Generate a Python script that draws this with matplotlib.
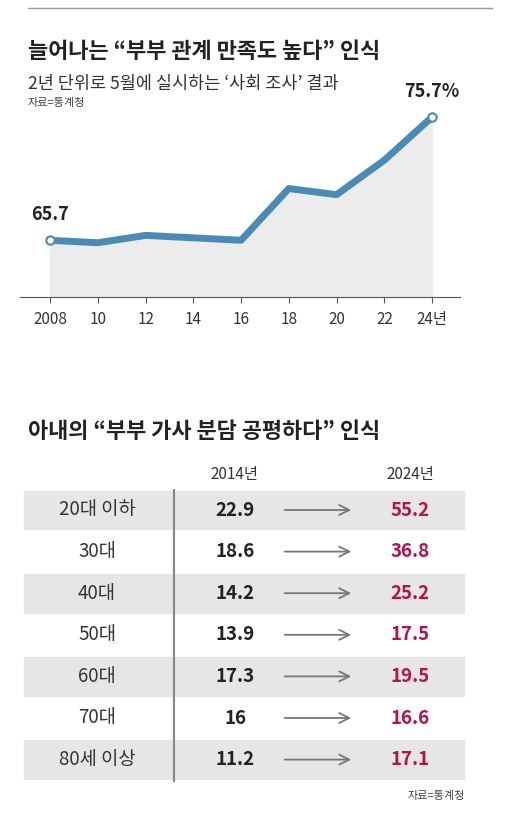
import matplotlib
matplotlib.use("Agg")
import matplotlib.pyplot as plt
from matplotlib.patches import Rectangle

plt.rcParams['font.family'] = ['Noto Sans CJK KR', 'DejaVu Sans']

years = [2008, 2010, 2012, 2014, 2016, 2018, 2020, 2022, 2024]
year_labels = ['2008', '10', '12', '14', '16', '18', '20', '22', '24년']
satisfaction = [65.7, 65.5, 66.1, 65.9, 65.7, 69.9, 69.4, 72.2, 75.7]

groups = ['20대 이하', '30대', '40대', '50대', '60대', '70대', '80세 이상']
v2014 = ['22.9', '18.6', '14.2', '13.9', '17.3', '16', '11.2']
v2024 = ['55.2', '36.8', '25.2', '17.5', '19.5', '16.6', '17.1']

W, H = 520, 816
fig = plt.figure(figsize=(W/100, H/100), dpi=100)
bg = fig.add_axes([0, 0, 1, 1])
bg.set_xlim(0, W); bg.set_ylim(H, 0); bg.axis('off')

bg.plot([28, 492], [8, 8], color='#999999', lw=1)
bg.text(28, 52, '늘어나는 “부부 관계 만족도 높다” 인식', fontsize=15.8, fontweight='bold', va='center', color='#222')
bg.text(28, 84, '2년 단위로 5월에 실시하는 ‘사회 조사’ 결과', fontsize=12.6, va='center', color='#333')
bg.text(28, 103, '자료=통계청', fontsize=8, va='center', color='#444')

# line chart
l, r, t, b = 20, 460, 110, 297
ax = fig.add_axes([l/W, 1-b/H, (r-l)/W, (b-t)/H])
ax.set_xlim(2006.74, 2025.17)
ax.set_ylim(61.1, 76.27)
ax.fill_between(years, satisfaction, 61.1, color='#ececec', zorder=1)
ax.plot(years, satisfaction, color='#4a8ab5', lw=5, solid_joinstyle='round', zorder=2)
ax.plot([years[0], years[-1]], [satisfaction[0], satisfaction[-1]], 'o', ms=6,
        mfc='white', mec='#4a8ab5', mew=1.5, zorder=3)
ax.text(years[0], satisfaction[0]+1.3, '65.7', fontsize=13, fontweight='bold', ha='center', va='bottom', color='#222')
ax.text(years[-1], satisfaction[-1]+1.3, '75.7%', fontsize=13, fontweight='bold', ha='center', va='bottom', color='#222')
for s in ['top', 'right', 'left']:
    ax.spines[s].set_visible(False)
ax.spines['bottom'].set_color('#555')
ax.set_yticks([])
ax.set_xticks(years)
ax.set_xticklabels(year_labels, fontsize=11, color='#333')
ax.tick_params(axis='x', length=4, color='#555', pad=6)
ax.set_facecolor('none')

# table
bg.text(28, 432, '아내의 “부부 가사 분담 공평하다” 인식', fontsize=15.8, fontweight='bold', va='center', color='#222')
bg.text(234, 475, '2014년', fontsize=11, ha='center', va='center', color='#333')
bg.text(410, 475, '2024년', fontsize=11, ha='center', va='center', color='#333')
rh = 41.6
y0 = 510
for i, g in enumerate(groups):
    yc = y0 + i*rh
    if i % 2 == 0:
        bg.add_patch(Rectangle((24, yc-rh/2+1.5), 440, rh-3, color='#e6e6e6', zorder=0))
    bg.text(97, yc, g, fontsize=13.5, ha='center', va='center', color='#333')
    bg.text(235, yc, v2014[i], fontsize=13.5, fontweight='bold', ha='center', va='center', color='#222')
    bg.annotate('', xy=(354, yc), xytext=(282, yc),
                arrowprops=dict(arrowstyle='->', color='#777', lw=1.3, mutation_scale=18))
    bg.text(410, yc, v2024[i], fontsize=13.5, fontweight='bold', ha='center', va='center', color='#b5134b')
bg.plot([174, 174], [490, 781], color='#888', lw=1.5)
bg.text(465, 796, '자료=통계청', fontsize=8, ha='right', va='center', color='#444')

fig.savefig('out.png', dpi=100)
